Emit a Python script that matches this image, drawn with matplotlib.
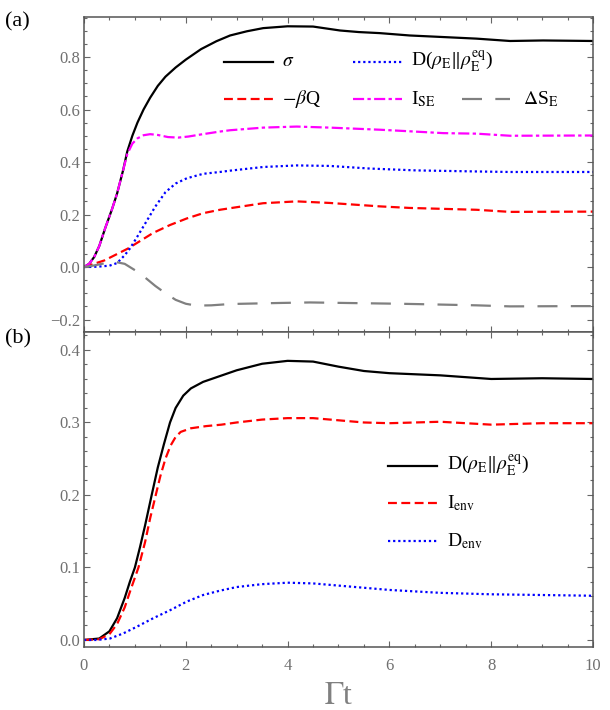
import matplotlib
matplotlib.use("Agg")
import matplotlib.pyplot as plt
from matplotlib.lines import Line2D
from matplotlib.ticker import MultipleLocator

plt.rcParams['font.family'] = ['Liberation Serif', 'DejaVu Serif']
plt.rcParams['mathtext.fontset'] = 'stix'

# ---------------- data: panel (a) ----------------
xa_sig = [0, 0.1, 0.2, 0.3, 0.42, 0.55, 0.65, 0.77, 0.85, 0.95, 1.05, 1.17, 1.3, 1.45, 1.6, 1.8, 2.0, 2.3,
          2.6, 2.87, 3.2, 3.52, 4.0, 4.5, 5.03, 5.4, 5.81, 6.4, 7.06, 7.71, 8.37, 9.02, 10.0]
sigma = [0, 0.012, 0.038, 0.08, 0.15, 0.22, 0.28, 0.37, 0.44, 0.5, 0.55, 0.6, 0.645, 0.69, 0.725, 0.76, 0.79, 0.83,
         0.86, 0.882, 0.898, 0.91, 0.917, 0.916, 0.901, 0.895, 0.891, 0.882, 0.876, 0.87, 0.861, 0.863, 0.861]

xa_ise = [0, 0.1, 0.2, 0.3, 0.42, 0.55, 0.65, 0.77, 0.85, 0.95, 1.05, 1.17, 1.3, 1.45, 1.65, 1.85, 2.05, 2.3,
          2.67, 2.87, 3.52, 4.18, 4.83, 5.81, 6.4, 7.06, 7.71, 8.37, 10.0]
isee = [0, 0.012, 0.038, 0.08, 0.15, 0.22, 0.28, 0.37, 0.43, 0.47, 0.49, 0.502, 0.506, 0.503, 0.495, 0.493, 0.497, 0.505,
        0.516, 0.521, 0.531, 0.535, 0.531, 0.523, 0.517, 0.51, 0.508, 0.5, 0.501]

xa_d = [0, 0.25, 0.5, 0.65, 0.8, 0.9, 1.03, 1.2, 1.4, 1.6, 1.8, 2.02, 2.34, 2.67, 2.87,
        3.52, 4.18, 4.83, 5.62, 6.53, 7.71, 8.37, 10.0]
drel = [0, 0.001, 0.005, 0.015, 0.045, 0.07, 0.11, 0.165, 0.23, 0.285, 0.318, 0.338, 0.355, 0.362, 0.367,
        0.381, 0.387, 0.385, 0.375, 0.368, 0.364, 0.362, 0.362]

xa_q = [0, 0.4, 0.86, 1.36, 1.69, 2.02, 2.34, 2.67, 2.87, 3.52, 4.18, 4.83, 5.81, 6.4, 7.71, 8.37, 10.0]
mbq = [0, 0.025, 0.07, 0.13, 0.16, 0.185, 0.205, 0.218, 0.224, 0.243, 0.25, 0.244, 0.231, 0.225, 0.218, 0.21, 0.211]

xa_s = [0, 0.2, 0.4, 0.6, 0.8, 1.0, 1.2, 1.4, 1.6, 1.8, 2.0, 2.2, 2.5, 2.87, 3.85, 4.44, 5.49, 6.2, 6.73,
        7.71, 8.37, 9.68, 10.0]
dse = [0, 0.006, 0.014, 0.02, 0.012, -0.012, -0.04, -0.072, -0.1, -0.125, -0.14, -0.147, -0.146, -0.141, -0.137,
       -0.135, -0.138, -0.14, -0.142, -0.146, -0.15, -0.149, -0.149]

# ---------------- data: panel (b) ----------------
xb_d = [0, 0.3, 0.5, 0.65, 0.8, 0.9, 1.0, 1.1, 1.2, 1.33, 1.45, 1.57, 1.69, 1.8, 1.95, 2.1, 2.34, 2.67,
        3.0, 3.5, 4.0, 4.5, 5.0, 5.5, 6.0, 7.0, 8.0, 9.0, 10.0]
dtot = [0, 0.002, 0.012, 0.03, 0.058, 0.08, 0.1, 0.128, 0.158, 0.2, 0.238, 0.27, 0.3, 0.32, 0.337, 0.347, 0.356, 0.364,
        0.372, 0.381, 0.385, 0.384, 0.377, 0.371, 0.368, 0.365, 0.36, 0.361, 0.36]

xb_i = [0, 0.3, 0.5, 0.65, 0.8, 0.9, 1.0, 1.07, 1.2, 1.3, 1.41, 1.5, 1.6, 1.7, 1.8, 1.9, 2.1, 2.4, 2.7,
        3.0, 3.5, 4.0, 4.5, 5.0, 5.5, 6.0, 7.0, 8.0, 9.0, 10.0]
ienv = [0, 0.001, 0.008, 0.022, 0.045, 0.066, 0.086, 0.1, 0.135, 0.168, 0.2, 0.226, 0.25, 0.268, 0.28, 0.287, 0.292,
        0.295, 0.297, 0.3, 0.304, 0.306, 0.306, 0.303, 0.3, 0.299, 0.301, 0.297, 0.299, 0.299]

xb_e = [0, 0.25, 0.51, 0.77, 1.03, 1.36, 1.69, 2.02, 2.34, 2.67, 3.0, 3.5, 4.0, 4.5, 5.0, 5.5, 6.0, 7.0, 8.0, 9.0, 10.0]
denv = [0, 0, 0.002, 0.009, 0.018, 0.03, 0.041, 0.053, 0.062, 0.068, 0.073, 0.077, 0.079, 0.078, 0.075, 0.072, 0.069,
        0.065, 0.063, 0.062, 0.061]

xticks = [0, 2, 4, 6, 8, 10]
xticklabels = ['0', '2', '4', '6', '8', '10']

FW, FH = 610, 710
fig = plt.figure(figsize=(6.1, 7.1), dpi=100)
L, R = 84, 593
axa = fig.add_axes([L / FW, 1 - 332 / FH, (R - L) / FW, (332 - 17) / FH])
axb = fig.add_axes([L / FW, 1 - 647 / FH, (R - L) / FW, (647 - 332) / FH])

lw = 1.6
sty = {
    'solid': dict(color='black', ls='-'),
    'red': dict(color='red', ls=(0, (4, 2))),
    'blue': dict(color='blue', ls=(0, (1, 1.3))),
    'mag': dict(color='magenta', ls=(0, (5, 1.5, 1.5, 1.5))),
    'gray': dict(color='gray', ls=(0, (9, 6))),
}

axa.plot(xa_sig, sigma, lw=lw, **sty['solid'])
axa.plot(xa_q, mbq, lw=lw, **sty['red'])
axa.plot(xa_d, drel, lw=lw, **sty['blue'])
axa.plot(xa_ise, isee, lw=lw, **sty['mag'])
axa.plot(xa_s, dse, lw=lw, **sty['gray'])

axb.plot(xb_d, dtot, lw=lw, **sty['solid'])
axb.plot(xb_i, ienv, lw=lw, **sty['red'])
axb.plot(xb_e, denv, lw=lw, **sty['blue'])


def legend_entry(ax, top, x0, x1, xt, y, style, label):
    h = 315
    fx = lambda p: (p - L) / (R - L)
    fy = 1 - (y - top) / h
    ax.add_line(Line2D([fx(x0), fx(x1)], [fy, fy], transform=ax.transAxes, lw=lw, **style))
    ax.text(fx(xt), fy, label, transform=ax.transAxes, fontsize=14, va='center', ha='left')


DREL = r'D($\rho_{\rm E}\|\rho_{\rm E}^{\rm eq}$)'
legend_entry(axa, 17, 224, 273, 282, 62, sty['solid'], r'$\sigma$')
legend_entry(axa, 17, 353, 402, 411, 62, sty['blue'], DREL)
legend_entry(axa, 17, 224, 273, 282, 99, sty['red'], r'$-\beta$Q')
legend_entry(axa, 17, 353, 402, 411, 99, sty['mag'], r'I$_{\rm SE}$')
legend_entry(axa, 17, 462, 510, 523, 99, sty['gray'], r'$\Delta$S$_{\rm E}$')

legend_entry(axb, 332, 388, 437, 447, 466, sty['solid'], DREL)
legend_entry(axb, 332, 388, 437, 447, 503, sty['red'], r'I$_{\rm env}$')
legend_entry(axb, 332, 388, 437, 447, 541, sty['blue'], r'D$_{\rm env}$')

for ax in (axa, axb):
    ax.set_xlim(0, 10)
    ax.set_xticks(xticks)
    ax.xaxis.set_minor_locator(MultipleLocator(0.5))
    ax.tick_params(which='both', direction='in', top=True, right=True, color='#666666',
                   labelcolor='#707070', labelsize=12, width=0.8)
    ax.tick_params(which='major', length=4)
    ax.tick_params(which='minor', length=2.5)
    ax.tick_params(axis='y', pad=3)
    ax.tick_params(axis='x', pad=8)
    for s in ax.spines.values():
        s.set_color('#555555')
        s.set_linewidth(1.1)

axa.set_ylim(-0.2476, 0.9524)
axa.set_yticks([-0.2, 0.0, 0.2, 0.4, 0.6, 0.8])
axa.set_yticklabels(['\u22120.2', '0.0', '0.2', '0.4', '0.6', '0.8'])
axa.yaxis.set_minor_locator(MultipleLocator(0.05))
axa.tick_params(labelbottom=False)

axb.set_ylim(-0.0097, 0.4248)
axb.set_yticks([0.0, 0.1, 0.2, 0.3, 0.4])
axb.set_yticklabels(['0.0', '0.1', '0.2', '0.3', '0.4'])
axb.yaxis.set_minor_locator(MultipleLocator(0.02))
axb.set_xticklabels(xticklabels)

fig.text(339 / FW, 1 - 696 / FH, r'$\Gamma$t', fontsize=23, color='#808080', ha='center', va='center')
fig.text(5 / FW, 1 - 22 / FH, '(a)', fontsize=16, color='black', ha='left', va='center')
fig.text(5 / FW, 1 - 339 / FH, '(b)', fontsize=16, color='black', ha='left', va='center')

fig.savefig('out.png', dpi=100)
